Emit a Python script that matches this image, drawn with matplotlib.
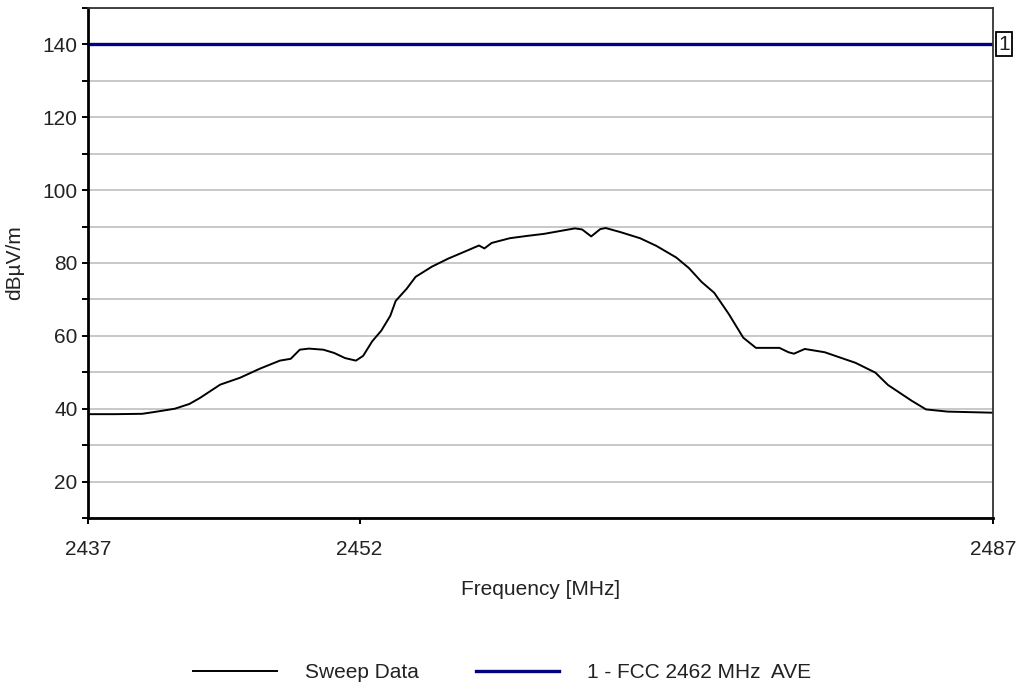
import matplotlib.pyplot as plt
from matplotlib.ticker import MultipleLocator

plt.rcParams["font.family"] = ["Liberation Sans", "DejaVu Sans"]

# sweep trace (MHz, dBuV/m)
freq = [2437.0, 2438.5, 2440.0, 2440.8, 2441.8, 2442.6, 2443.2, 2444.3, 2445.4,
        2446.5, 2447.6, 2448.2, 2448.7, 2449.2, 2450.0, 2450.6, 2451.2, 2451.8,
        2452.2, 2452.7, 2453.2, 2453.7, 2454.0, 2454.6, 2455.1, 2456.0, 2456.9,
        2457.8, 2458.6, 2458.9, 2459.3, 2460.3, 2461.2, 2462.2, 2463.1, 2463.9,
        2464.3, 2464.8, 2465.3, 2465.6, 2466.4, 2467.5, 2468.4, 2469.5, 2470.2,
        2470.9, 2471.6, 2472.4, 2473.2, 2473.9, 2475.2, 2475.7, 2476.0, 2476.6,
        2477.7, 2479.4, 2480.5, 2481.2, 2482.5, 2483.3, 2484.5, 2487.0]
level = [38.5, 38.5, 38.6, 39.2, 40.0, 41.3, 43.0, 46.6, 48.5,
         51.0, 53.2, 53.7, 56.2, 56.5, 56.2, 55.3, 53.9, 53.2,
         54.5, 58.5, 61.4, 65.5, 69.6, 72.9, 76.2, 79.0, 81.2,
         83.1, 84.8, 84.0, 85.5, 86.8, 87.4, 88.0, 88.8, 89.5,
         89.2, 87.3, 89.3, 89.6, 88.5, 86.8, 84.7, 81.5, 78.6,
         74.8, 71.8, 66.0, 59.5, 56.7, 56.7, 55.5, 55.1, 56.4,
         55.5, 52.6, 49.9, 46.5, 42.2, 39.8, 39.2, 38.9]

limit_level = 140
limit_label = "1"
x_ticks = [2437, 2452, 2487]
y_ticks = [20, 40, 60, 80, 100, 120, 140]

fs = 15

fig = plt.figure(figsize=(10.21, 6.9), dpi=100)
ax = fig.add_axes([0.0862, 0.2493, 0.8864, 0.7391])

ax.plot(freq, level, color="black", lw=1.4, label="Sweep Data")
ax.axhline(limit_level, color="#000080", lw=2.4, label="1 - FCC 2462 MHz  AVE")

ax.set_xlim(2437, 2487)
ax.set_ylim(10, 150)
ax.set_xticks(x_ticks)
ax.set_yticks(y_ticks)
ax.yaxis.set_minor_locator(MultipleLocator(10))
ax.grid(True, axis="y", which="both", color="#c8c8c8", lw=1.4)
ax.set_axisbelow(True)

ax.tick_params(axis="both", which="both", direction="out", length=4, width=1.4,
               labelsize=fs, colors="black", labelcolor="#222222")
ax.tick_params(axis="x", pad=12)
for s in ax.spines.values():
    s.set_linewidth(1.3)
    s.set_color("#333333")
ax.spines["left"].set_linewidth(2)
ax.spines["bottom"].set_linewidth(2)
ax.spines["left"].set_color("black")
ax.spines["bottom"].set_color("black")

ax.text(1.0055, limit_level, limit_label, transform=ax.get_yaxis_transform(),
        ha="left", va="center", fontsize=fs, color="#222222",
        bbox=dict(boxstyle="square,pad=0.12", fc="white", ec="black", lw=1.3))

ax.set_xlabel("Frequency [MHz]", fontsize=fs, labelpad=15, color="#222222")
ax.set_ylabel("dBµV/m", fontsize=fs, labelpad=13, color="#222222")

fig.legend(loc="center", bbox_to_anchor=(0.492, 0.025), ncol=2, frameon=False,
           fontsize=fs, handlelength=4.0, columnspacing=2.75, handletextpad=1.35,
           labelcolor="#222222")

fig.savefig("out.png", dpi=100)
